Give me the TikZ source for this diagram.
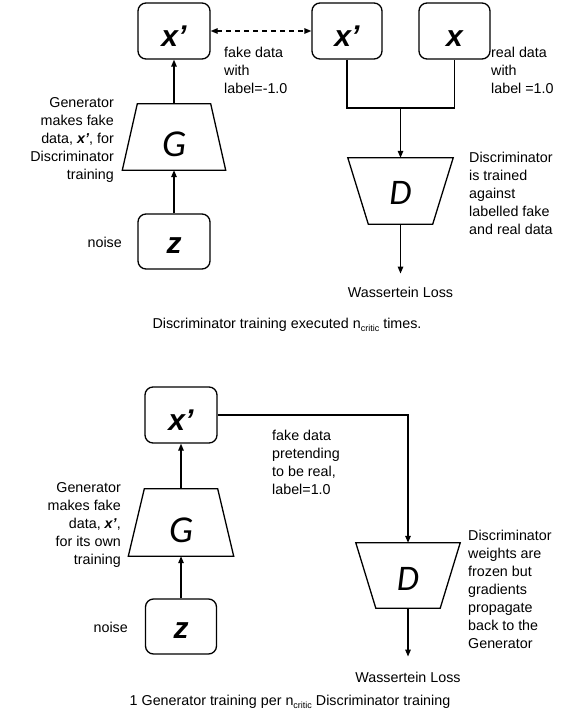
\documentclass[tikz,border=0pt]{standalone}
\usepackage{fontspec}
\setmainfont{Liberation Sans}
\newfontfamily\carl{Carlito}
\usetikzlibrary{arrows.meta,calc}
\begin{document}
\begin{tikzpicture}[x=1pt,y=-1pt,
  every node/.style={inner sep=0pt, font=\fontsize{14.3}{18}\selectfont},
  databox/.style={draw, line width=1.3pt, rounded corners=8pt, minimum width=72pt, minimum height=56pt, font=\fontsize{30}{30}\selectfont\bfseries\itshape},
  trap/.style={minimum width=104pt, minimum height=66pt, font=\carl\itshape\fontsize{38}{38}\selectfont},
  conn/.style={line width=1.3pt},
  arr/.style={conn, -{Triangle[length=7pt,width=5.5pt]}},
  dbl/.style={conn, dash pattern=on 5pt off 4pt, {Triangle[length=7pt,width=5.5pt]}-{Triangle[length=7pt,width=5.5pt]}},
  txtl/.style={align=left, anchor=west},
  txtr/.style={align=right, anchor=east},
]
\useasboundingbox (0,0) rectangle (570,727);
% ---------- top part ----------
\node[databox] (xp1) at (174,31) {\smash{\raisebox{-15.5pt}{x’}}};
\node[databox, minimum width=70pt] (xp2) at (347,31) {\smash{\raisebox{-15.5pt}{x’}}};
\node[databox, minimum width=71pt] (xr) at (454.5,31) {\smash{\raisebox{-15.5pt}{x}}};
\node[databox, minimum height=55pt] (z1) at (174,241.5) {\smash{\raisebox{-11.5pt}{z}}};
\node[trap, minimum width=103pt] (G1) at (174,137) {\smash{\raisebox{-20pt}{G}}};
\draw[conn] (G1.south west) -- (G1.south east) -- ([xshift=-15pt]G1.north east) -- ([xshift=15pt]G1.north west) -- cycle;
\node[trap, minimum width=105pt, font=\carl\itshape\fontsize{36}{36}\selectfont] (D1) at (400.5,191) {\smash{\raisebox{-14pt}{D}}};
\draw[conn] (D1.north west) -- (D1.north east) -- ([xshift=-20.5pt]D1.south east) -- ([xshift=20.5pt]D1.south west) -- cycle;
\coordinate (j1) at (400.5,108);
\node (loss1) at (400.5,292) {Wassertein Loss};

\draw[arr] (z1.north) -- (G1.south);
\draw[arr] (G1.north) -- (xp1.south);
\draw[dbl] (xp1.east) -- (xp2.west);
\draw[conn] (xp2.south) |- (j1) -| (xr.south);
\draw[arr] (j1) -- (D1.north);
\draw[arr, shorten >=13pt] (D1.south) -- (loss1.north);

\node[txtr] (gen1) at (114,140) {Generator\\makes fake\\data, \textbf{\textit{x’}}, for\\Discriminator\\training};
\node[txtr] (noise1) at (122,242) {noise};
\node[txtl] (fake1) at (224,70) {fake data\\with\\label=-1.0};
\node[txtl] (real1) at (491,70) {real data\\with\\label =1.0};
\node[txtl] (disc1) at (469,193) {Discriminator\\is trained\\against\\labelled fake\\and real data};
\node (cap1) at (287,325) {Discriminator training executed n\raisebox{-3pt}{\fontsize{9}{9}\selectfont critic} times.};

% ---------- bottom part ----------
\node[databox] (xp3) at (181,415) {\smash{\raisebox{-15.5pt}{x’}}};
\node[databox, minimum height=55pt, minimum width=71pt] (z2) at (181,626.5) {\smash{\raisebox{-11.5pt}{z}}};
\node[trap, minimum width=105pt, minimum height=67pt] (G2) at (181,522.5) {\smash{\raisebox{-20pt}{G}}};
\draw[conn] (G2.south west) -- (G2.south east) -- ([xshift=-16pt]G2.north east) -- ([xshift=16pt]G2.north west) -- cycle;
\node[trap, minimum width=104pt, minimum height=65pt, font=\carl\itshape\fontsize{36}{36}\selectfont] (D2) at (408,575.5) {\smash{\raisebox{-15pt}{D}}};
\draw[conn] (D2.north west) -- (D2.north east) -- ([xshift=-20pt]D2.south east) -- ([xshift=20pt]D2.south west) -- cycle;
\node (loss2) at (408,677) {Wassertein Loss};

\draw[arr] (z2.north) -- (G2.south);
\draw[arr] (G2.north) -- (xp3.south);
\draw[arr] (xp3.east) -| (D2.north);
\draw[arr, shorten >=15pt] (D2.south) -- (loss2.north);

\node[txtr] (gen2) at (121,524.5) {Generator\\makes fake\\data, \textbf{\textit{x’}},\\for its own\\training};
\node[txtr] (noise2) at (128,627) {noise};
\node[txtl] (fake2) at (272,462) {fake data\\pretending\\to be real,\\label=1.0};
\node[txtl] (disc2) at (468,589.5) {Discriminator\\weights are\\frozen but\\gradients\\propagate\\back to the\\Generator};
\node (cap2) at (290,702) {1 Generator training per n\raisebox{-3pt}{\fontsize{9}{9}\selectfont critic} Discriminator training};
\end{tikzpicture}
\end{document}
